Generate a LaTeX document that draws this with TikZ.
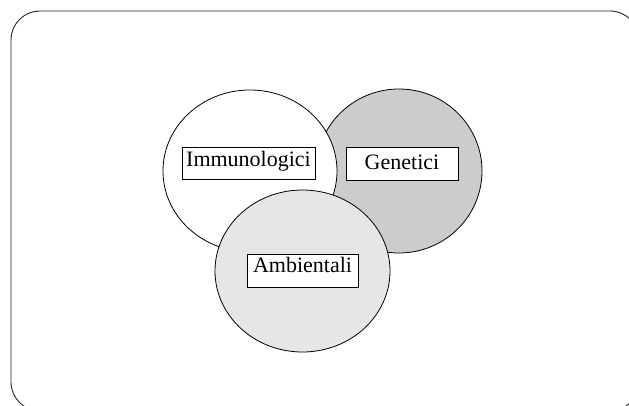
\documentclass[tikz,border=0pt]{standalone}
\usepackage{fontspec}
\setmainfont{Liberation Serif}
\usepackage{tikz}
\usetikzlibrary{shapes.geometric}
\definecolor{grigio}{HTML}{CCCCCC}
\definecolor{grigiochiaro}{HTML}{E6E6E6}
\definecolor{bordo}{HTML}{262626}
\tikzset{
  insieme/.style={draw=black,line width=0.8pt,ellipse,inner sep=0pt,outer sep=0pt,
    minimum width=174pt,minimum height=162pt},
  etichetta/.style={draw=black,line width=0.6pt,fill=white,inner xsep=1pt,inner ysep=2pt,
    align=center,font=\fontsize{22}{26}\selectfont},
  cornice/.style={draw=bordo,line width=0.9pt,rounded corners=29pt}
}
\begin{document}
\begin{tikzpicture}[x=1pt,y=1pt]
\useasboundingbox (0,0) rectangle (629,405);
\clip (0,0) rectangle (629,405);
\draw[cornice] (11,-6) rectangle (639,394);

\node[insieme,fill=grigio,minimum width=166pt,minimum height=164pt] (gen) at (399,234) {};
\node[insieme,fill=white] (imm) at (250,234) {};
\node[insieme,fill=grigiochiaro,minimum width=175pt] (amb) at (302.5,134) {};

\node[etichetta,minimum width=133pt,text height=17pt,text depth=11pt] (immtxt) at (248.5,242) {Immunologici};
\node[etichetta,minimum width=112pt,text height=20pt,text depth=9pt] (gentxt) at (402,241.5) {Genetici};
\node[etichetta,minimum width=111pt,text height=16pt,text depth=13pt] (ambtxt) at (302.5,134.5) {Ambientali};
\end{tikzpicture}
\end{document}
